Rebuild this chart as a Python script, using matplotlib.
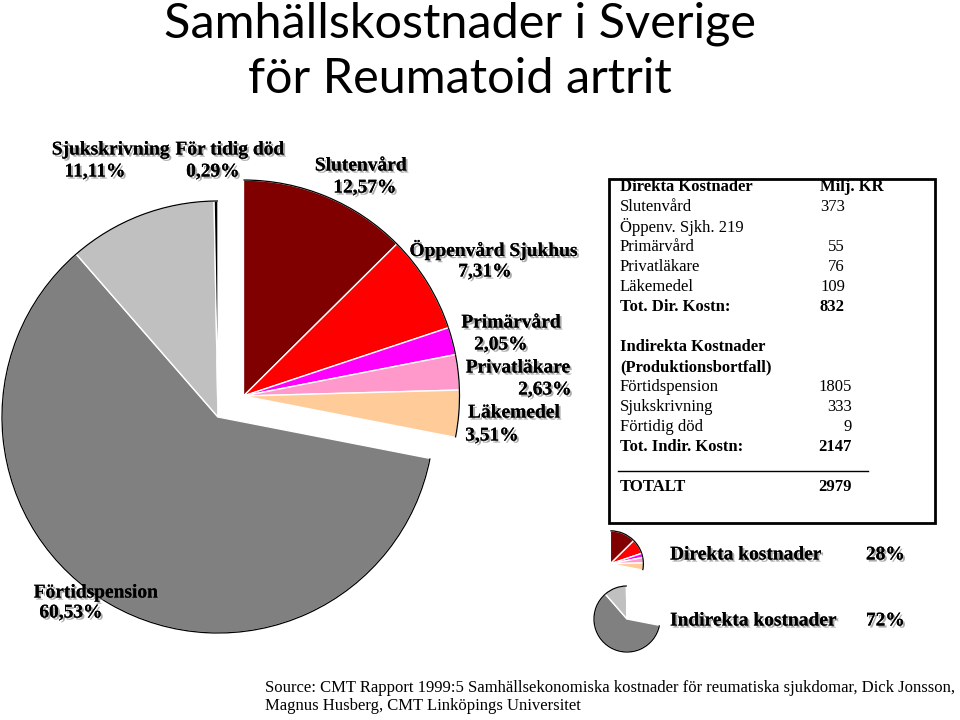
import matplotlib
matplotlib.use("Agg")
import matplotlib.pyplot as plt
import matplotlib.patheffects as pe
from matplotlib.patches import Arc, Rectangle
import numpy as np

# slice data, clockwise from 12 o'clock
slice_names = ["Slutenvård", "Öppenvård Sjukhus", "Primärvård", "Privatläkare",
               "Läkemedel", "Förtidspension", "Sjukskrivning", "För tidig död"]
slice_pct = [12.57, 7.31, 2.05, 2.63, 3.51, 60.53, 11.11, 0.29]
slice_colors = ["#800000", "#ff0000", "#ff00ff", "#ff99cc", "#ffcc99",
                "#808080", "#c0c0c0", "#000000"]
is_direct = [True, True, True, True, True, False, False, False]

# cost table (Milj. KR)
table_labels = ["Direkta Kostnader", "Slutenvård", "Öppenv. Sjkh. 219", "Primärvård",
                "Privatläkare", "Läkemedel", "Tot. Dir. Kostn:", "",
                "Indirekta Kostnader", "(Produktionsbortfall)", "Förtidspension",
                "Sjukskrivning", "Förtidig död", "Tot. Indir. Kostn:"]
table_values = ["Milj. KR", "373", "", "55", "76", "109", "832", "",
                "", "", "1805", "333", "9", "2147"]
table_bold = [0, 6, 8, 9, 13]
total_label = "TOTALT"
total_value = "2979"

group_names = ["Direkta kostnader", "Indirekta kostnader"]
group_pct = ["28%", "72%"]

source_text = ("Source: CMT Rapport 1999:5 Samhällsekonomiska kostnader för reumatiska "
               "sjukdomar, Dick Jonsson,\nMagnus Husberg, CMT Linköpings Universitet")

W, H = 960, 720
fig = plt.figure(figsize=(9.6, 7.2), dpi=100)
ax = fig.add_axes([0, 0, 1, 1])


def Y(y):
    # pixel row (from top) -> data y
    return H - y


def draw_pie(center, radius, shift, show):
    wedges, _ = ax.pie(slice_pct, colors=slice_colors, startangle=90,
                       counterclock=False, center=center, radius=radius,
                       wedgeprops=dict(edgecolor="white", linewidth=1))
    # direct group is pulled out along its bisector
    d_th = [t for w, d in zip(wedges, is_direct) if d for t in (w.theta1, w.theta2)]
    mid = np.deg2rad((min(d_th) + max(d_th)) / 2)
    for w, d, s in zip(wedges, is_direct, show):
        if d:
            w.set_center((center[0] + shift * np.cos(mid), center[1] + shift * np.sin(mid)))
        if not s:
            w.set_visible(False)
            continue
        ax.add_patch(Arc(w.center, 2 * w.r, 2 * w.r, theta1=w.theta1, theta2=w.theta2,
                         color="black", lw=0.9, zorder=3))
    return wedges


# main pie
draw_pie((218, Y(417)), 216, 33, [True] * len(slice_pct))

# legend mini pies
draw_pie((598, Y(574)), 33, 16, is_direct)
draw_pie((627, Y(619)), 33, 0, [not d for d in is_direct])

shadow = [pe.withSimplePatchShadow(offset=(1.5, -1.5), shadow_rgbFace="#888888", alpha=0.7),
          pe.Normal()]
lab_kw = dict(family="Liberation Serif", fontweight="bold", fontsize=14,
              path_effects=shadow, va="center", ha="center")

# slice labels: (name x, name y, pct x, pct y)
label_pos = {
    "Sjukskrivning": (111, 150, 95, 172),
    "För tidig död": (230, 150, 213, 172),
    "Slutenvård": (361, 166, 365, 188),
    "Öppenvård Sjukhus": (494, 250, 485, 272),
    "Primärvård": (511, 323, 501, 345),
    "Privatläkare": (518, 368, 545, 390),
    "Läkemedel": (514, 413, 492, 436),
    "Förtidspension": (96, 593, 71, 613),
}
for name, pct in zip(slice_names, slice_pct):
    nx, ny, px, py = label_pos[name]
    ax.text(nx, Y(ny), name, **lab_kw)
    ax.text(px, Y(py), f"{pct:.2f}%".replace(".", ","), **lab_kw)

# title
ax.text(460, Y(37), "Samhällskostnader i Sverige", ha="center", va="baseline",
        family="Lato", fontsize=35)
ax.text(460, Y(93), "för Reumatoid artrit", ha="center", va="baseline",
        family="Lato", fontsize=35)

# cost table
tkw = dict(family="Liberation Serif", fontsize=12, va="center")
ax.add_patch(Rectangle((609, Y(523)), 326, 344, fill=False, lw=2, ec="black"))
for i, (lab, val) in enumerate(zip(table_labels, table_values)):
    y = Y(187 + 20 * i)
    fw = "bold" if i in table_bold else "normal"
    ax.text(620, y, lab, ha="left", fontweight=fw, **tkw)
    if i == 0:
        ax.text(820, y, val, ha="left", fontweight=fw, **tkw)
    elif val:
        ax.text(845 if i < 8 else 852, y, val, ha="right", fontweight=fw, **tkw)
ax.plot([618, 868], [Y(471), Y(471)], color="black", lw=1)
ax.text(620, Y(487), total_label, ha="left", fontweight="bold", **tkw)
ax.text(852, Y(487), total_value, ha="right", fontweight="bold", **tkw)

# group legend text
for i, (g, p) in enumerate(zip(group_names, group_pct)):
    y = Y(555 + 66 * i)
    ax.text(670, y, g, ha="left", va="center", family="Liberation Serif",
            fontweight="bold", fontsize=14, path_effects=shadow)
    ax.text(905, y, p, ha="right", va="center", family="Liberation Serif",
            fontweight="bold", fontsize=14, path_effects=shadow)

# source
ax.text(265, Y(697), source_text, ha="left", va="center", family="Liberation Serif",
        fontsize=12, linespacing=1.2)

ax.set_xlim(0, W)
ax.set_ylim(0, H)
ax.set_aspect("equal")
ax.axis("off")

fig.savefig("out.png", dpi=100)
